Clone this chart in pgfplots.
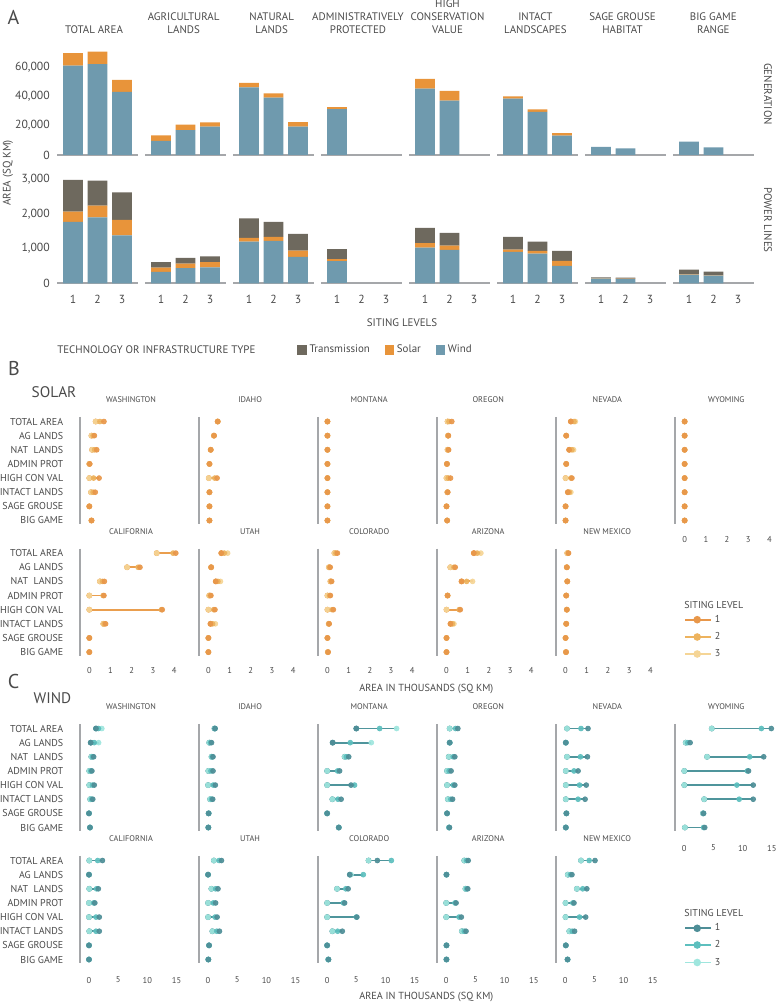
\documentclass[border=0pt]{standalone}
\usepackage{pgfplots}
\pgfplotsset{compat=1.18}
\usepackage{pgfplotstable}
\usepackage{fontspec}
\setmainfont{PT Sans}
\definecolor{cwind}{HTML}{6F9AAE}
\definecolor{csolar}{HTML}{E8943A}
\definecolor{ctrans}{HTML}{6E695E}
\definecolor{cgrid}{HTML}{A5A7AA}
\definecolor{txt}{HTML}{4A4A4A}
\definecolor{so1}{HTML}{E8974A}
\definecolor{so2}{HTML}{EDB35E}
\definecolor{so3}{HTML}{F5D596}
\definecolor{soL}{HTML}{EA9E4E}
\definecolor{wi1}{HTML}{4E8E97}
\definecolor{wi2}{HTML}{5DBFBE}
\definecolor{wi3}{HTML}{9FE6DE}
\definecolor{wiL}{HTML}{4F959C}
\newcommand\PX[2]{({(#1)*0.75pt},{(1002-(#2))*0.75pt})}
\newcommand\fs[1]{\fontsize{#1}{#1}\selectfont}

% ---------- solar data (thousand sq km), levels 1,2,3 ----------
\pgfplotstableread[row sep=\\]{r l1 l2 l3\\ 1 0.69 0.50 0.30\\ 2 0.24 0.18 0.10\\ 3 0.35 0.25 0.13\\ 4 0.02 0.01 0.00\\ 5 0.46 0.20 0.00\\ 6 0.28 0.18 0.08\\ 7 0.00 0.00 0.00\\ 8 0.11 0.10 0.10\\}\sWA
\pgfplotstableread[row sep=\\]{r l1 l2 l3\\ 1 0.44 0.44 0.44\\ 2 0.27 0.26 0.26\\ 3 0.11 0.11 0.11\\ 4 0.05 0.05 0.05\\ 5 0.41 0.30 0.02\\ 6 0.05 0.05 0.05\\ 7 0.05 0.05 0.05\\ 8 0.05 0.05 0.05\\}\sID
\pgfplotstableread[row sep=\\]{r l1 l2 l3\\ 1 0 0 0\\ 2 0 0 0\\ 3 0 0 0\\ 4 0 0 0\\ 5 0 0 0\\ 6 0 0 0\\ 7 0 0 0\\ 8 0 0 0\\}\sMT
\pgfplotstableread[row sep=\\]{r l1 l2 l3\\ 1 0.25 0.12 0.05\\ 2 0.09 0.08 0.07\\ 3 0.10 0.08 0.05\\ 4 0.02 0.02 0.02\\ 5 0.19 0.08 0.00\\ 6 0.06 0.05 0.04\\ 7 0.00 0.00 0.00\\ 8 0.03 0.03 0.03\\}\sOR
\pgfplotstableread[row sep=\\]{r l1 l2 l3\\ 1 0.25 0.40 0.46\\ 2 0.03 0.03 0.03\\ 3 0.17 0.30 0.38\\ 4 0.03 0.03 0.03\\ 5 0.30 0.25 0.00\\ 6 0.11 0.18 0.25\\ 7 0.00 0.00 0.00\\ 8 0.00 0.00 0.00\\}\sNV
\pgfplotstableread[row sep=\\]{r l1 l2 l3\\ 1 0 0 0\\ 2 0 0 0\\ 3 0 0 0\\ 4 0 0 0\\ 5 0 0 0\\ 6 0 0 0\\ 7 0 0 0\\ 8 0 0 0\\}\sWY
\pgfplotstableread[row sep=\\]{r l1 l2 l3\\ 1 4.08 3.95 3.18\\ 2 2.39 2.30 1.78\\ 3 0.71 0.62 0.50\\ 4 0.69 0.65 0.00\\ 5 3.44 3.40 0.00\\ 6 0.77 0.70 0.66\\ 7 0.00 0.00 0.00\\ 8 0.00 0.00 0.00\\}\sCA
\pgfplotstableread[row sep=\\]{r l1 l2 l3\\ 1 0.61 0.75 0.91\\ 2 0.13 0.13 0.13\\ 3 0.35 0.45 0.57\\ 4 0.12 0.08 0.04\\ 5 0.31 0.25 0.00\\ 6 0.10 0.20 0.33\\ 7 0.00 0.00 0.00\\ 8 0.00 0.00 0.00\\}\sUT
\pgfplotstableread[row sep=\\]{r l1 l2 l3\\ 1 0.47 0.40 0.33\\ 2 0.13 0.10 0.07\\ 3 0.20 0.17 0.14\\ 4 0.14 0.10 0.00\\ 5 0.28 0.22 0.00\\ 6 0.08 0.07 0.06\\ 7 0.00 0.00 0.00\\ 8 0.03 0.02 0.02\\}\sCO
\pgfplotstableread[row sep=\\]{r l1 l2 l3\\ 1 1.29 1.45 1.62\\ 2 0.41 0.35 0.18\\ 3 0.71 0.95 1.23\\ 4 0.05 0.05 0.05\\ 5 0.65 0.60 0.00\\ 6 0.19 0.28 0.35\\ 7 0.00 0.00 0.00\\ 8 0.00 0.00 0.00\\}\sAZ
\pgfplotstableread[row sep=\\]{r l1 l2 l3\\ 1 0.14 0.12 0.08\\ 2 0.06 0.06 0.06\\ 3 0.08 0.08 0.08\\ 4 0.03 0.03 0.03\\ 5 0.06 0.06 0.06\\ 6 0.03 0.03 0.03\\ 7 0.00 0.00 0.00\\ 8 0.02 0.02 0.02\\}\sNM
% ---------- wind data ----------
\pgfplotstableread[row sep=\\]{r l1 l2 l3\\ 1 1.2 1.6 2.2\\ 2 0.3 0.9 1.65\\ 3 0.8 0.6 0.4\\ 4 0.5 0.3 0.05\\ 5 0.9 0.6 0.05\\ 6 0.65 0.45 0.2\\ 7 0 0 0\\ 8 0.17 0.17 0.17\\}\wWA
\pgfplotstableread[row sep=\\]{r l1 l2 l3\\ 1 1.2 1.2 1.1\\ 2 0.6 0.4 0.2\\ 3 0.85 0.7 0.6\\ 4 0.85 0.5 0.05\\ 5 1.25 0.9 0\\ 6 0.8 0.6 0.35\\ 7 0.1 0.1 0.1\\ 8 0.05 0.05 0.05\\}\wID
\pgfplotstableread[row sep=\\]{r l1 l2 l3\\ 1 5.0 9.0 11.9\\ 2 0.95 3.97 7.57\\ 3 3.7 3.3 3.0\\ 4 2.14 1.8 0\\ 5 4.1 4.7 0\\ 6 2.4 1.85 0.9\\ 7 0 0 0\\ 8 2.0 2.0 2.0\\}\wMT
\pgfplotstableread[row sep=\\]{r l1 l2 l3\\ 1 2.0 1.6 0.6\\ 2 0.6 0.6 0.6\\ 3 1.48 1.2 0.45\\ 4 0.84 0.5 0.15\\ 5 1.48 1.2 0.15\\ 6 1.1 0.8 0.3\\ 7 0.15 0.15 0.15\\ 8 0.56 0.5 0.5\\}\wOR
\pgfplotstableread[row sep=\\]{r l1 l2 l3\\ 1 3.9 2.7 0.3\\ 2 0.1 0.1 0.1\\ 3 3.8 2.6 0.3\\ 4 2.2 1.5 0.1\\ 5 3.6 2.45 0.1\\ 6 3.4 2.2 0.1\\ 7 0.2 0.2 0.2\\ 8 0.1 0.1 0.1\\}\wNV
\pgfplotstableread[row sep=\\]{r l1 l2 l3\\ 1 14.9 13.2 4.7\\ 2 1.0 0.6 0.25\\ 3 13.6 11.2 3.9\\ 4 11.0 10.8 0\\ 5 11.8 9.0 0\\ 6 11.8 9.4 3.4\\ 7 3.3 3.3 3.2\\ 8 3.5 3.3 0.1\\}\wWY
\pgfplotstableread[row sep=\\]{r l1 l2 l3\\ 1 2.3 1.5 0.05\\ 2 0 0 0\\ 3 1.6 1.3 0.05\\ 4 1.0 0.8 0\\ 5 1.76 1.2 0\\ 6 1.76 1.2 0.05\\ 7 0 0 0\\ 8 0 0 0\\}\wCA
\pgfplotstableread[row sep=\\]{r l1 l2 l3\\ 1 2.3 1.9 1.0\\ 2 0 0 0\\ 3 1.7 1.3 0.57\\ 4 1.3 0.9 0\\ 5 1.55 1.2 0\\ 6 1.95 1.5 0.74\\ 7 0.17 0.17 0.17\\ 8 0.05 0.05 0.05\\}\wUT
\pgfplotstableread[row sep=\\]{r l1 l2 l3\\ 1 8.6 11.0 7.1\\ 2 3.9 6.2 4.1\\ 3 3.6 3.2 1.7\\ 4 3.0 2.8 0\\ 5 5.1 5.0 0\\ 6 2.6 1.8 0.9\\ 7 0 0 0\\ 8 0.25 0.2 0.2\\}\wCO
\pgfplotstableread[row sep=\\]{r l1 l2 l3\\ 1 3.77 3.5 3.1\\ 2 0.05 0.05 0.05\\ 3 3.7 3.5 3.3\\ 4 1.7 1.5 0\\ 5 2.6 2.2 0\\ 6 3.4 3.1 2.7\\ 7 0.05 0.05 0.05\\ 8 0.05 0.05 0.05\\}\wAZ
\pgfplotstableread[row sep=\\]{r l1 l2 l3\\ 1 5.1 4.1 2.7\\ 2 1.15 0.9 0.45\\ 3 3.7 3.0 2.0\\ 4 1.5 1.3 0.05\\ 5 3.5 2.45 0.05\\ 6 1.6 1.2 0.7\\ 7 0.1 0.1 0.1\\ 8 0.4 0.4 0.4\\}\wNM

\pgfplotsset{
 every axis/.append style={/pgf/number format/assume math mode=true, tick label style={text=txt}, title style={text=txt}},
 barbase/.style={scale only axis, width=60.75pt, xmin=0.347, xmax=3.653, ymin=0, anchor=south west,
   ybar stacked, bar width=0.8, axis x line*=bottom, axis y line*=left,
   x axis line style={-, draw=cgrid, line width=1.3pt}, y axis line style={draw=none},
   major tick length=0, xtick=\empty, ytick=\empty, scaled y ticks=false,
   /pgf/number format/1000 sep={,},
   tick label style={font=\fs{8.8}},
   yticklabel style={anchor=east, inner sep=0pt, xshift=-5.25pt},
   xticklabel style={anchor=center, inner sep=0pt, yshift=-11.8pt}},
 dumb/.style={scale only axis, width=82.5pt, height=80.25pt, anchor=north west, y dir=reverse,
   ymin=0.68, ymax=8.247, axis y line*=left, axis x line*=bottom,
   x axis line style={draw=none}, y axis line style={-, draw=cgrid, line width=1.4pt},
   major tick length=0, ytick=\empty, xtick=\empty, clip=false,
   title style={at={(axis description cs:0.464,1)}, anchor=base, yshift=4.6pt, inner sep=0pt, font=\fs{6.2}},
   tick label style={font=\fs{6.4}},
   xticklabel style={anchor=center, inner sep=0pt},
   yticklabel style={anchor=east, inner sep=0pt, xshift=-12.4pt, font=\fs{7.5}}},
 solarax/.style={dumb, xmin=-0.44, xmax=4.75},
 windax/.style={dumb, xmin=-1.54, xmax=17.3},
 cats/.style={ytick={1,2,3,4,5,6,7,8}, yticklabels={TOTAL AREA, AG LANDS, NAT\ \ LANDS, ADMIN PROT, HIGH CON VAL, INTACT LANDS, SAGE GROUSE, BIG GAME}},
 sticks/.style={xtick={0,1,2,3,4}, xticklabel style={yshift=-11.5pt}},
 wticks/.style={xtick={0,5,10,15}, xticklabel style={yshift=-12.8pt}},
 solarline/.style={forget plot, only marks, mark=none, color=soL, error bars/x dir=plus, error bars/x explicit, error bars/error mark=none, error bars/error bar style={color=soL, solid, line width=1.4pt}},
 windline/.style={forget plot, only marks, mark=none, color=wiL, error bars/x dir=plus, error bars/x explicit, error bars/error mark=none, error bars/error bar style={color=wiL, solid, line width=1.4pt}},
 dot/.style={only marks, mark=*, mark size=1.85pt, color=#1, mark options={solid, draw=#1, fill=#1, line width=0.5pt}, opacity=0.92},
 solarm1/.style={dot=so1}, solarm2/.style={dot=so2}, solarm3/.style={dot=so3},
 windm1/.style={dot=wi1}, windm2/.style={dot=wi2}, windm3/.style={dot=wi3},
}

\newcommand\genax[4]{%
\begin{axis}[barbase, ymax=75000, height=82.4pt, at={({(#1)*0.75pt},{(1002-155)*0.75pt})}, #4]
\addplot[fill=cwind, draw=none] coordinates {#2};
\addplot[fill=csolar, draw=none] coordinates {#3};
\end{axis}}
\newcommand\plax[5]{%
\begin{axis}[barbase, ymax=3200, height=83.2pt, at={({(#1)*0.75pt},{(1002-283.3)*0.75pt})}, xtick={1,2,3}, #5]
\addplot[fill=cwind, draw=none] coordinates {#2};
\addplot[fill=csolar, draw=none] coordinates {#3};
\addplot[fill=ctrans, draw=none] coordinates {#4};
\end{axis}}
\newcommand\dpanel[6]{%
\begin{axis}[#5ax, at={({(#1)*0.75pt},{(1002-(#2))*0.75pt})}, title={#3}, #6]
\addplot[#5line] table[x expr={min(\thisrow{l1},\thisrow{l2},\thisrow{l3})}, y=r, x error expr={max(\thisrow{l1},\thisrow{l2},\thisrow{l3})-min(\thisrow{l1},\thisrow{l2},\thisrow{l3})}] {#4};
\addplot[#5m3] table[x=l3, y=r] {#4};
\addplot[#5m2] table[x=l2, y=r] {#4};
\addplot[#5m1] table[x=l1, y=r] {#4};
\end{axis}}
\newcommand\siteleg[4]{%
\begin{axis}[hide axis, scale only axis, width=1pt, height=1pt, xmin=0, xmax=1, ymin=0, ymax=1,
  at={({(#1)*0.75pt},{(1002-(#2))*0.75pt})}, anchor=south west,
  legend style={at={(0,0)}, anchor=west, draw=none, fill=none, inner sep=0pt, font=\fs{7.5}, text=txt},
  legend image code/.code={\draw[##1] (0pt,0pt) -- (19.5pt,0pt); \fill[##1] (9pt,0pt) circle (2.1pt);}]
\addlegendimage{draw=#3, fill=#3, line width=1.4pt}
\addlegendentry{#4}
\end{axis}}

\begin{document}
\begin{tikzpicture}[every node/.append style={text=txt}]
\useasboundingbox (0,0) rectangle (582pt,751.5pt);

% ================= Panel A =================
\node[font=\fs{15}] at \PX{13.5}{17.5} {A};
\node[font=\fs{8.2}] at \PX{94}{29.3} {TOTAL AREA};
\node[font=\fs{8.2}] at \PX{183.7}{16.7} {AGRICULTURAL};
\node[font=\fs{8.2}] at \PX{183.7}{29.7} {LANDS};
\node[font=\fs{8.2}] at \PX{271.7}{16.7} {NATURAL};
\node[font=\fs{8.2}] at \PX{271.7}{29.7} {LANDS};
\node[font=\fs{8.2}] at \PX{358}{16.7} {ADMINISTRATIVELY};
\node[font=\fs{8.2}] at \PX{358}{29.7} {PROTECTED};
\node[font=\fs{8.2}] at \PX{447.5}{4} {HIGH};
\node[font=\fs{8.2}] at \PX{447.5}{16.7} {CONSERVATION};
\node[font=\fs{8.2}] at \PX{447.5}{29.7} {VALUE};
\node[font=\fs{8.2}] at \PX{535.3}{16.7} {INTACT};
\node[font=\fs{8.2}] at \PX{535.3}{29.7} {LANDSCAPES};
\node[font=\fs{8.2}] at \PX{622.5}{16.7} {SAGE GROUSE};
\node[font=\fs{8.2}] at \PX{622.5}{29.7} {HABITAT};
\node[font=\fs{8.2}] at \PX{713.3}{16.7} {BIG GAME};
\node[font=\fs{8.2}] at \PX{713.3}{29.7} {RANGE};
\node[font=\fs{8.2}, rotate=90] at \PX{8}{173} {AREA (SQ KM)};
\node[font=\fs{8.2}, rotate=-90] at \PX{768}{94} {GENERATION};
\node[font=\fs{8.2}, rotate=-90] at \PX{768}{220} {POWER LINES};
\node[font=\fs{8.2}] at \PX{402}{323} {SITING LEVELS};
\node[font=\fs{8.2}, anchor=west, inner sep=0pt] at \PX{57}{350} {TECHNOLOGY OR INFRASTRUCTURE TYPE};

\genax{57}{(1,61000)(2,62000)(3,43000)}{(1,8600)(2,8500)(3,8200)}{ytick={0,20000,40000,60000}}
\genax{145}{(1,9550)(2,17050)(3,19300)}{(1,3900)(2,3650)(3,3000)}{}
\genax{233}{(1,46200)(2,39100)(3,19300)}{(1,2950)(2,3000)(3,3200)}{}
\genax{321}{(1,31600)(2,0)(3,0)}{(1,1400)(2,0)(3,0)}{}
\genax{409}{(1,45250)(2,37100)(3,0)}{(1,6650)(2,6600)(3,0)}{}
\genax{497}{(1,38400)(2,29350)(3,13200)}{(1,1650)(2,1850)(3,1800)}{}
\genax{585}{(1,5460)(2,4550)(3,0)}{(1,0)(2,0)(3,0)}{}
\genax{673}{(1,9080)(2,5250)(3,0)}{(1,0)(2,0)(3,0)}{}

\plax{57}{(1,1768)(2,1904)(3,1384)}{(1,297)(2,336)(3,442)}{(1,915)(2,720)(3,799)}{ytick={0,1000,2000,3000}}
\plax{145}{(1,326)(2,441)(3,461)}{(1,124)(2,125)(3,153)}{(1,164)(2,164)(3,164)}{}
\plax{233}{(1,1200)(2,1220)(3,759)}{(1,107)(2,116)(3,182)}{(1,568)(2,432)(3,481)}{}
\plax{321}{(1,635)(2,0)(3,0)}{(1,66)(2,0)(3,0)}{(1,280)(2,0)(3,0)}{}
\plax{409}{(1,1027)(2,961)(3,0)}{(1,135)(2,124)(3,0)}{(1,433)(2,366)(3,0)}{}
\plax{497}{(1,903)(2,855)(3,499)}{(1,67)(2,77)(3,144)}{(1,366)(2,268)(3,289)}{}
\plax{585}{(1,133)(2,130)(3,0)}{(1,10)(2,8)(3,0)}{(1,30)(2,24)(3,0)}{}
\plax{673}{(1,249)(2,220)(3,0)}{(1,15)(2,10)(3,0)}{(1,129)(2,105)(3,0)}{}

\begin{axis}[hide axis, scale only axis, width=1pt, height=1pt, xmin=0, xmax=1, ymin=0, ymax=1,
  at={({297*0.75pt},{(1002-350)*0.75pt})}, anchor=south west, legend columns=3,
  legend style={at={(0,0)}, anchor=west, draw=none, fill=none, inner sep=0pt, font=\fs{8.2}, text=txt,
    /tikz/every even column/.append style={column sep=9pt}},
  legend image code/.code={\fill[#1] (0pt,-3.6pt) rectangle (7.2pt,3.6pt);}]
\addlegendimage{fill=ctrans, draw=none}\addlegendentry{Transmission}
\addlegendimage{fill=csolar, draw=none}\addlegendentry{Solar}
\addlegendimage{fill=cwind, draw=none}\addlegendentry{Wind}
\end{axis}

% ================= Panel B =================
\node[font=\fs{15}] at \PX{14}{369} {B};
\node[font=\fs{11.5}] at \PX{54}{392} {SOLAR};
\dpanel{80}{417}{WASHINGTON}{\sWA}{solar}{cats}
\dpanel{199.06}{417}{IDAHO}{\sID}{solar}{}
\dpanel{318.12}{417}{MONTANA}{\sMT}{solar}{}
\dpanel{437.18}{417}{OREGON}{\sOR}{solar}{}
\dpanel{556.24}{417}{NEVADA}{\sNV}{solar}{}
\dpanel{675.3}{417}{WYOMING}{\sWY}{solar}{sticks}
\dpanel{80}{548.6}{CALIFORNIA}{\sCA}{solar}{cats, sticks}
\dpanel{199.06}{548.6}{UTAH}{\sUT}{solar}{sticks}
\dpanel{318.12}{548.6}{COLORADO}{\sCO}{solar}{sticks}
\dpanel{437.18}{548.6}{ARIZONA}{\sAZ}{solar}{sticks}
\dpanel{556.24}{548.6}{NEW MEXICO}{\sNM}{solar}{sticks}
\node[font=\fs{7.7}] at \PX{426.3}{689} {AREA IN THOUSANDS (SQ KM)};
\node[font=\fs{7.5}, anchor=west, inner sep=0pt] at \PX{684}{605} {SITING LEVEL};
\siteleg{684}{619.7}{so1}{1}
\siteleg{684}{637}{so2}{2}
\siteleg{684}{654}{so3}{3}

% ================= Panel C =================
\node[font=\fs{15}] at \PX{13.5}{682} {C};
\node[font=\fs{11.5}] at \PX{52.5}{698} {WIND};
\dpanel{80}{724}{WASHINGTON}{\wWA}{wind}{cats}
\dpanel{199.06}{724}{IDAHO}{\wID}{wind}{}
\dpanel{318.12}{724}{MONTANA}{\wMT}{wind}{}
\dpanel{437.18}{724}{OREGON}{\wOR}{wind}{}
\dpanel{556.24}{724}{NEVADA}{\wNV}{wind}{}
\dpanel{675.3}{724}{WYOMING}{\wWY}{wind}{wticks}
\dpanel{80}{856}{CALIFORNIA}{\wCA}{wind}{cats, wticks}
\dpanel{199.06}{856}{UTAH}{\wUT}{wind}{wticks}
\dpanel{318.12}{856}{COLORADO}{\wCO}{wind}{wticks}
\dpanel{437.18}{856}{ARIZONA}{\wAZ}{wind}{wticks}
\dpanel{556.24}{856}{NEW MEXICO}{\wNM}{wind}{wticks}
\node[font=\fs{7.7}] at \PX{426.3}{996.7} {AREA IN THOUSANDS (SQ KM)};
\node[font=\fs{7.5}, anchor=west, inner sep=0pt] at \PX{684}{913.3} {SITING LEVEL};
\siteleg{684}{928.3}{wi1}{1}
\siteleg{684}{945}{wi2}{2}
\siteleg{684}{962.5}{wi3}{3}
\end{tikzpicture}
\end{document}
